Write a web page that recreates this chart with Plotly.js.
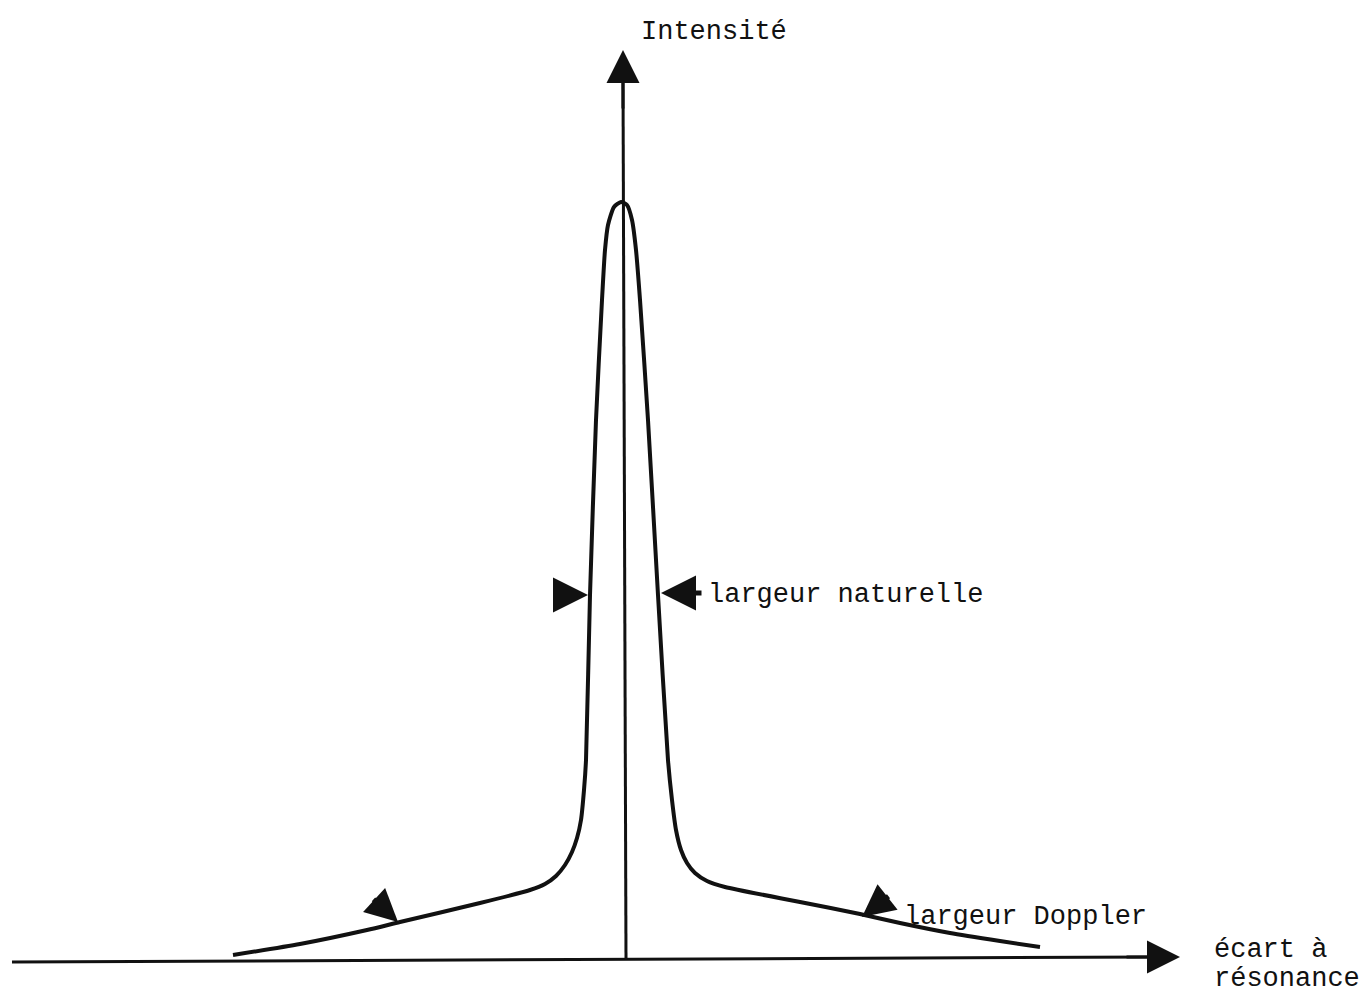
<!DOCTYPE html>
<html>
<head>
<meta charset="utf-8">
<script src="https://cdn.plot.ly/plotly-3.0.1.min.js"></script>
<style>html,body{margin:0;padding:0;background:#fff;}#chart{width:1364px;height:994px;}</style>
</head>
<body>
<div id="chart"></div>
<script>
// Line profile: detuning (écart à résonance) vs intensity
const detuning = [-3.92,-3.25,-2.58,-2.25,-1.45,-0.95,-0.80,-0.69,-0.60,-0.53,-0.48,-0.44,-0.41,-0.39,-0.35,-0.29,-0.23,-0.20,-0.17,-0.11,-0.04,0.02,0.07,0.11,0.15,0.23,0.33,0.43,0.47,0.51,0.56,0.62,0.70,0.82,1.00,1.75,2.35,2.75,3.25,3.75,4.15];
const intensity = [0.05,0.16,0.30,0.38,0.57,0.70,0.76,0.84,0.95,1.08,1.22,1.40,1.70,2.00,3.65,5.40,6.60,7.10,7.35,7.53,7.58,7.55,7.40,7.10,6.60,5.40,3.65,2.00,1.60,1.30,1.10,0.97,0.87,0.79,0.73,0.58,0.46,0.37,0.27,0.19,0.13];

// Axes drawn as lines
const xAxisLineX = [-6.13, 5.30];
const xAxisLineY = [-0.02, 0.03];
const yAxisLineX = [0.01, -0.02];
const yAxisLineY = [0.00, 8.80];

// Text labels
const labelIntensity = "Intensité";
const labelNatural = "largeur naturelle";
const labelDoppler = "largeur Doppler";
const labelDetuning1 = "écart à";
const labelDetuning2 = "résonance";

const font = {family: "Liberation Mono, Courier New, monospace", size: 27, color: "#111"};

const traces = [
  {x: xAxisLineX, y: xAxisLineY, mode: "lines", line: {color: "#111", width: 3}, hoverinfo: "skip"},
  {x: yAxisLineX, y: yAxisLineY, mode: "lines", line: {color: "#111", width: 3}, hoverinfo: "skip"},
  {x: detuning, y: intensity, mode: "lines", line: {color: "#111", width: 4, shape: "spline", smoothing: 0.6}, hoverinfo: "skip"}
];

function arrow(x, y, ax, ay, w, s) {
  return {x: x, y: y, ax: ax, ay: ay, xref: "x", yref: "y", text: "", showarrow: true,
          arrowhead: 2, arrowwidth: w, arrowsize: s, arrowcolor: "#111"};
}
function axisArrow(x, y, ax, ay) {
  return {x: x, y: y, ax: ax, ay: ay, xref: "x", yref: "y", axref: "x", ayref: "y", text: "",
          showarrow: true, arrowhead: 2, arrowwidth: 3, arrowsize: 2.2, arrowcolor: "#111"};
}
function label(t, x, y) {
  return {x: x, y: y, xref: "x", yref: "y", text: t, showarrow: false, xanchor: "left",
          yanchor: "middle", font: font, borderpad: 0};
}

const annotations = [
  axisArrow(-0.02, 9.10, -0.02, 8.50),
  axisArrow(5.55, 0.03, 5.00, 0.03),
  arrow(-0.37, 3.65, -36, 0, 5, 1.4),
  arrow(0.36, 3.67, 42, 0, 5, 1.4),
  arrow(-2.27, 0.38, -26, -24, 5, 1.3),
  arrow(2.37, 0.43, 28, -22, 5, 1.3),
  label(labelIntensity, 0.15, 9.28),
  label(labelNatural, 0.82, 3.65),
  label(labelDoppler, 2.78, 0.43),
  label(labelDetuning1, 5.88, 0.10),
  label(labelDetuning2, 5.88, -0.19)
];

const layout = {
  width: 1364, height: 994,
  margin: {l: 0, r: 0, t: 0, b: 0},
  paper_bgcolor: "#fff", plot_bgcolor: "#fff",
  showlegend: false,
  xaxis: {range: [-6.25, 7.39], visible: false, fixedrange: true},
  yaxis: {range: [-0.34, 9.60], visible: false, fixedrange: true},
  annotations: annotations
};

Plotly.newPlot("chart", traces, layout, {staticPlot: true, displayModeBar: false});
</script>
</body>
</html>
